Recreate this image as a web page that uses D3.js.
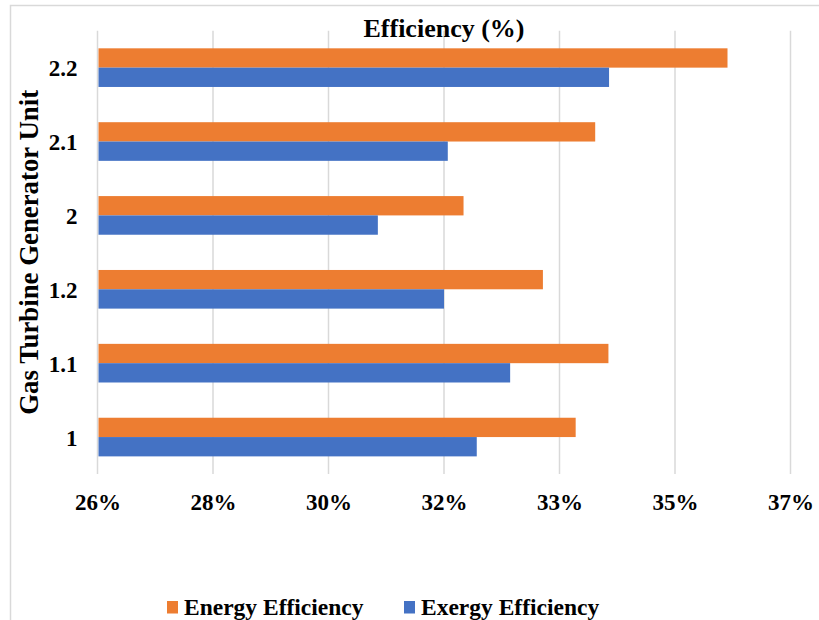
<!DOCTYPE html>
<html>
<head>
<meta charset="utf-8">
<script src="https://cdn.jsdelivr.net/npm/d3@7"></script>
<style>
  html, body { margin: 0; padding: 0; background: #ffffff; }
  svg { display: block; }
  text { font-family: "Liberation Serif", "Times New Roman", serif; font-weight: bold; fill: #000; }
</style>
</head>
<body>
<script>
// Gas turbine generator units, listed top to bottom
const units = ["2.2", "2.1", "2", "1.2", "1.1", "1"];
// Efficiency per unit (fraction)
const energyEfficiency = [0.3600, 0.3390, 0.3181, 0.3307, 0.3411, 0.3359];
const exergyEfficiency = [0.3412, 0.3156, 0.3045, 0.3150, 0.3255, 0.3202];
const seriesNames = ["Energy Efficiency", "Exergy Efficiency"];
const seriesColors = ["#ED7D31", "#4472C4"];
// Axis ticks (six equal steps from 26% to 37%)
const tickLabels = ["26%", "28%", "30%", "32%", "33%", "35%", "37%"];
const xMin = 0.26, xMax = 0.37;

const W = 819, H = 620;
const plot = { left: 97.5, right: 790.5, top: 30.7, bottom: 474 };

const svg = d3.select("body").append("svg")
  .attr("width", W).attr("height", H);

// chart area frame
svg.append("rect")
  .attr("x", 10.5).attr("y", 5.5)
  .attr("width", 900).attr("height", 700)
  .attr("fill", "none").attr("stroke", "#d9d9d9").attr("stroke-width", 1.5);

const x = d3.scaleLinear().domain([xMin, xMax]).range([plot.left, plot.right]);
const tickValues = tickLabels.map((_, i) => xMin + i * (xMax - xMin) / (tickLabels.length - 1));

const y = d3.scaleBand().domain(units)
  .range([plot.top, plot.bottom])
  .paddingInner(0.477).paddingOuter(0.2385);
const ySub = d3.scaleBand().domain(seriesNames).range([0, y.bandwidth()]);

// vertical gridlines
svg.append("g").selectAll("line").data(tickValues).join("line")
  .attr("x1", d => x(d)).attr("x2", d => x(d))
  .attr("y1", plot.top).attr("y2", plot.bottom)
  .attr("stroke", "#d9d9d9").attr("stroke-width", 1.5);

// bars
const rows = units.map((u, i) => ({ unit: u, values: [energyEfficiency[i], exergyEfficiency[i]] }));
const groups = svg.append("g").selectAll("g").data(rows).join("g")
  .attr("transform", d => `translate(0,${y(d.unit)})`);
groups.selectAll("rect").data(d => d.values.map((v, k) => ({ v, k })))
  .join("rect")
  .attr("x", x(xMin) + 1)
  .attr("y", d => ySub(seriesNames[d.k]))
  .attr("width", d => x(d.v) - x(xMin) - 1)
  .attr("height", ySub.bandwidth())
  .attr("fill", d => seriesColors[d.k]);

// x axis labels
const xAxis = d3.axisBottom(x).tickValues(tickValues)
  .tickFormat((d, i) => tickLabels[i]).tickSize(0).tickPadding(0);
const gx = svg.append("g").attr("transform", `translate(0,${plot.bottom})`).call(xAxis);
gx.select(".domain").remove();
gx.selectAll("text")
  .attr("y", 36).attr("dy", null)
  .style("font-family", "'Liberation Serif', 'Times New Roman', serif")
  .style("font-weight", "bold").style("font-size", "23px").attr("fill", "#000");

// y axis labels
const yAxis = d3.axisLeft(y).tickSize(0).tickPadding(0);
const gy = svg.append("g").attr("transform", `translate(${plot.left - 20},0)`).call(yAxis);
gy.select(".domain").remove();
gy.selectAll("text")
  .attr("dy", "0.38em").attr("x", 0)
  .style("font-family", "'Liberation Serif', 'Times New Roman', serif")
  .style("font-weight", "bold").style("font-size", "23px").attr("fill", "#000");

// titles
svg.append("text")
  .attr("x", (plot.left + plot.right) / 2).attr("y", 36.5)
  .attr("text-anchor", "middle").style("font-size", "26px")
  .text("Efficiency (%)");

svg.append("text")
  .attr("transform", `translate(38,${(plot.top + plot.bottom) / 2}) rotate(-90)`)
  .attr("text-anchor", "middle").style("font-size", "26.8px")
  .text("Gas Turbine Generator Unit");

// legend
const legendX = [167, 404];
const legend = svg.append("g").selectAll("g").data(seriesNames).join("g")
  .attr("transform", (d, i) => `translate(${legendX[i]},601)`);
legend.append("rect").attr("width", 11).attr("height", 12.5)
  .attr("fill", (d, i) => seriesColors[i]);
legend.append("text").attr("x", 17).attr("y", 14)
  .style("font-size", "23.5px").text(d => d);
</script>
</body>
</html>
